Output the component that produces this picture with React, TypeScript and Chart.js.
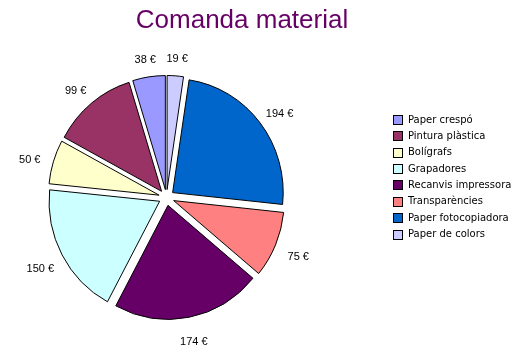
import React, { useEffect, useRef } from "react";
import { Chart, registerables } from "chart.js";

Chart.register(...registerables);

const title = "Comanda material";
const categories = [
  "Paper crespó",
  "Pintura plàstica",
  "Bolígrafs",
  "Grapadores",
  "Recanvis impressora",
  "Transparències",
  "Paper fotocopiadora",
  "Paper de colors",
];
const amounts = [38, 99, 50, 150, 174, 75, 194, 19];
const sliceColors = [
  "#9999FF",
  "#993366",
  "#FFFFCC",
  "#CCFFFF",
  "#660066",
  "#FF8080",
  "#0066CC",
  "#CCCCFF",
];

const EXPLODE = 8;
const LABEL_GAP = 29;
const SX = 0.97;

// Pie drawn clockwise from 12 o'clock in reverse legend order
const order = categories.map((_, i) => categories.length - 1 - i);

export default function App() {
  const ref = useRef<HTMLCanvasElement | null>(null);

  useEffect(() => {
    const canvas = ref.current;
    if (!canvas) return;

    const explodePlugin = {
      id: "explodePie",
      beforeDatasetDraw(chart: any, args: any) {
        const ctx = chart.ctx;
        const first = args.meta.data[0];
        const c = first.getProps(["x", "y"], true);
        ctx.save();
        ctx.translate(c.x, c.y);
        ctx.scale(SX, 1);
        ctx.translate(-c.x, -c.y);
        args.meta.data.forEach((arc: any) => {
          const p = arc.getProps(["startAngle", "endAngle"], true);
          const mid = (p.startAngle + p.endAngle) / 2;
          ctx.save();
          ctx.translate(Math.cos(mid) * EXPLODE, Math.sin(mid) * EXPLODE);
          arc.draw(ctx);
          ctx.restore();
        });
        ctx.restore();
        return false;
      },
      afterDatasetsDraw(chart: any) {
        const ctx = chart.ctx;
        const meta = chart.getDatasetMeta(0);
        ctx.save();
        ctx.font = "11px 'Liberation Sans', Arial, sans-serif";
        ctx.fillStyle = "#000";
        ctx.textAlign = "center";
        ctx.textBaseline = "middle";
        meta.data.forEach((arc: any, i: number) => {
          const p = arc.getProps(["startAngle", "endAngle", "x", "y", "outerRadius"], true);
          const mid = (p.startAngle + p.endAngle) / 2;
          const r = p.outerRadius + LABEL_GAP;
          const v = chart.data.datasets[0].data[i];
          ctx.fillText(v + " €", p.x + Math.cos(mid) * r, p.y + Math.sin(mid) * r + 4);
        });
        ctx.restore();
      },
      afterDraw(chart: any) {
        const ctx = chart.ctx;
        ctx.save();
        // Title
        ctx.font = "26px 'Liberation Sans', Arial, sans-serif";
        ctx.fillStyle = "#660066";
        ctx.textAlign = "center";
        ctx.textBaseline = "alphabetic";
        ctx.fillText(title, 242, 28);
        // Legend
        ctx.font = "10px 'DejaVu Sans', sans-serif";
        ctx.textAlign = "left";
        ctx.textBaseline = "middle";
        categories.forEach((c, i) => {
          const cy = 120 + i * 16.36;
          const by = Math.round(cy - 5) + 0.5;
          ctx.fillStyle = sliceColors[i];
          ctx.fillRect(393.5, by, 9, 9);
          ctx.strokeStyle = "#000";
          ctx.lineWidth = 1;
          ctx.strokeRect(393.5, by, 9, 9);
          ctx.fillStyle = "#000";
          ctx.fillText(c, 408, cy);
        });
        ctx.restore();
      },
    };

    const chart = new Chart(canvas, {
      type: "pie",
      data: {
        labels: order.map((i) => categories[i]),
        datasets: [
          {
            data: order.map((i) => amounts[i]),
            backgroundColor: order.map((i) => sliceColors[i]),
            borderColor: "#000",
            borderWidth: 1,
            offset: 0,
            hoverOffset: 0,
          },
        ],
      },
      options: {
        responsive: false,
        animation: false,
        devicePixelRatio: 1,
        layout: { padding: { left: 52, top: 83, right: 246, bottom: 42 } },
        plugins: {
          legend: { display: false },
          title: { display: false },
          tooltip: { enabled: false },
        },
        events: [],
      },
      plugins: [explodePlugin],
    });
    return () => chart.destroy();
  }, []);

  return (
    <div style={{ position: "absolute", left: 0, top: 0, width: 527, height: 354, background: "#fff" }}>
      <canvas ref={ref} width={527} height={354} />
    </div>
  );
}
